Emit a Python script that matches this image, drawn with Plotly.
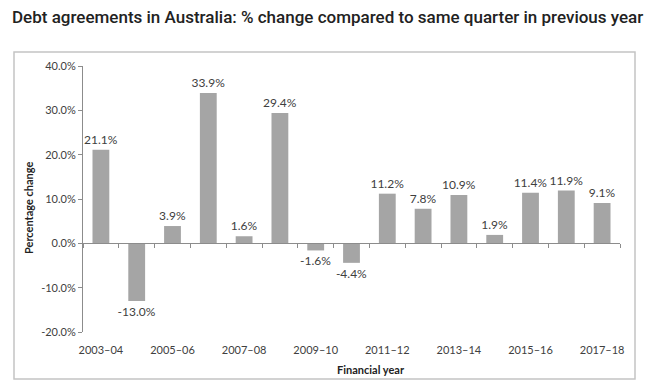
import plotly.graph_objects as go

categories = ["2003–04", "2004–05", "2005–06", "2006–07", "2007–08", "2008–09", "2009–10",
              "2010–11", "2011–12", "2012–13", "2013–14", "2014–15", "2015–16", "2016–17", "2017–18"]
pct_change = [21.1, -13.0, 3.9, 33.9, 1.6, 29.4, -1.6, -4.4, 11.2, 7.8, 10.9, 1.9, 11.4, 11.9, 9.1]
x_tick_labels = ["2003–04", "2005–06", "2007–08", "2009–10", "2011–12", "2013–14", "2015–16", "2017–18"]
y_tick_vals = [-20, -10, 0, 10, 20, 30, 40]
y_tick_labels = ["-20.0%", "-10.0%", "0.0%", "10.0%", "20.0%", "30.0%", "40.0%"]

label_font = dict(family="Lato, Open Sans, sans-serif", size=11, color="#404040")
data_font = dict(family="Lato, Open Sans, sans-serif", size=12, color="#404040")
axis_col = "#8c8c8c"

L, R, T, B = 83, 40, 66, 60
W, H = 660, 392
pw, ph = W - L - R, H - T - B

def px_x(x):
    return (x - L) / pw

def px_y(y):
    return (H - B - y) / ph

fig = go.Figure()
fig.add_trace(go.Bar(
    x=categories, y=pct_change,
    marker=dict(color="#a5a5a5", line=dict(width=0)),
    text=[f"{v:.1f}%" for v in pct_change],
    textposition="outside", textfont=data_font, constraintext="none",
    cliponaxis=False, width=0.47, hoverinfo="x+y",
))
fig.add_trace(go.Scatter(
    x=categories, y=pct_change, xaxis="x2", mode="markers",
    marker=dict(opacity=0), hoverinfo="skip", showlegend=False,
))

fig.update_layout(
    width=W, height=H,
    margin=dict(l=L, r=R, t=T, b=B),
    paper_bgcolor="white", plot_bgcolor="white",
    showlegend=False,
    title=dict(text="Debt agreements in Australia: % change compared to same quarter in previous year",
               x=12 / W, xanchor="left", xref="container",
               y=1 - 17 / H, yanchor="middle", yref="container",
               font=dict(family="Roboto, sans-serif", size=17, color="#222222", weight=500)),
    xaxis=dict(type="category", categoryorder="array", categoryarray=categories,
               range=[-0.5, len(categories) - 0.5],
               tickmode="array", tickvals=x_tick_labels, ticktext=x_tick_labels,
               ticks="outside", ticklen=8, tickcolor="rgba(0,0,0,0)",
               showline=False, showgrid=False, zeroline=False,
               tickfont=label_font, tickangle=0),
    xaxis2=dict(type="category", categoryorder="array", categoryarray=categories,
                overlaying="x", anchor="free", position=1 / 3, matches="x",
                range=[-0.5, len(categories) - 0.5],
                showline=True, linecolor=axis_col, linewidth=1,
                ticks="outside", tickson="boundaries", ticklen=4, tickcolor=axis_col,
                showticklabels=False, showgrid=False, zeroline=False),
    yaxis=dict(range=[-20, 40], tickmode="array", tickvals=y_tick_vals, ticktext=y_tick_labels,
               showline=True, linecolor=axis_col, linewidth=1,
               ticks="outside", ticklen=4, tickcolor=axis_col,
               showgrid=False, zeroline=False, tickfont=label_font),
    bargap=0.53,
)

fig.add_annotation(text="<b>Percentage change</b>", textangle=-90,
                   xref="paper", yref="paper", x=px_x(28), y=px_y(208),
                   xanchor="center", yanchor="middle",
                   showarrow=False, font=dict(family="Lato, Open Sans, sans-serif", size=11, color="#222222"))
fig.add_annotation(text="<b>Financial year</b>",
                   xref="paper", yref="paper", x=px_x(371), y=px_y(369),
                   xanchor="center", yanchor="middle",
                   showarrow=False, font=dict(family="Lato, Open Sans, sans-serif", size=11, color="#222222"))

fig.add_shape(type="rect", xref="paper", yref="paper",
              x0=px_x(14), x1=px_x(635), y0=px_y(379), y1=px_y(52),
              line=dict(color="#c4c4c4", width=1.5), layer="below")

fig.write_html("out.html", config={"displayModeBar": False},
               post_script="document.body.style.margin='0';")
